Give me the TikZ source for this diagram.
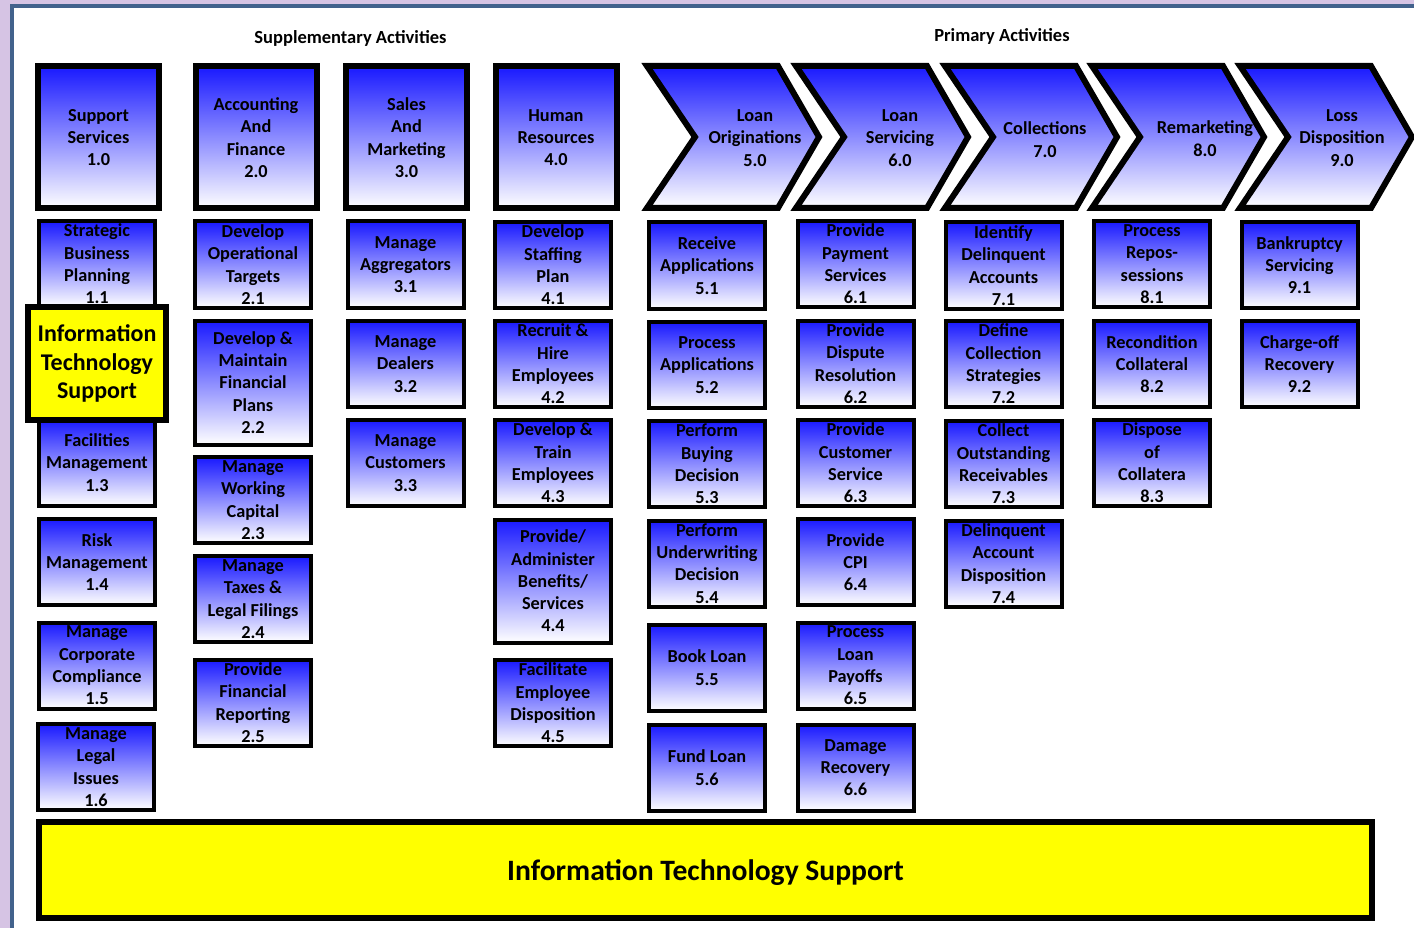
\documentclass[tikz,border=0pt]{standalone}
\usepackage{fontspec}
\setmainfont{Carlito}
\definecolor{boxblue}{RGB}{25,25,255}
\definecolor{ityellow}{RGB}{255,255,0}
\definecolor{pagepurple}{RGB}{214,196,228}
\definecolor{pageline}{RGB}{66,98,140}
\tikzset{%
    hdr/.style={rectangle, draw, line width=6pt, top color=boxblue, middle color=boxblue!38!white, bottom color=white, minimum width=121pt, minimum height=142pt, inner sep=0pt, align=center, font=\fontsize{18.3}{22.3}\selectfont\bfseries},
    sub/.style={rectangle, draw, line width=4pt, top color=boxblue, middle color=boxblue!38!white, bottom color=white, minimum width=116pt, minimum height=86pt, inner sep=0pt, align=center, font=\fontsize{18.3}{22.3}\selectfont\bfseries},
    tall/.style={sub, minimum height=124pt},
    chv/.style={draw, line width=6pt, line join=miter, top color=boxblue, middle color=boxblue!38!white, bottom color=white},
    chvt/.style={inner sep=0pt, align=center, font=\fontsize{18.3}{22.3}\selectfont\bfseries},
    itb/.style={rectangle, draw, line width=6pt, fill=ityellow, inner sep=0pt, align=center},
    ttl/.style={inner sep=0pt, font=\fontsize{18.5}{22}\selectfont\bfseries},
}
\begin{document}
\begin{tikzpicture}[x=1pt, y=-1pt]
    % page frame
    \fill[pagepurple] (0,0) rectangle (1414,928);
    \fill[pageline] (10,4) rectangle (1414,928);
    \fill[white] (14,8) rectangle (1414,928);
    \useasboundingbox (0,0) rectangle (1414,928);
    \node[ttl] (supp) at (350.5,38) {Supplementary Activities};
    \node[ttl] (prim) at (1002,36) {Primary Activities};
    % supplementary headers
    \node[hdr] (h1) at (98.5,137.5) {Support\\Services\\1.0};
    \node[hdr] (h2) at (256,137.5) {Accounting\\And\\Finance\\2.0};
    \node[hdr] (h3) at (406.5,137.5) {Sales\\And\\Marketing\\3.0};
    \node[hdr] (h4) at (556,137.5) {Human\\Resources\\4.0};
    % primary chevrons
    \draw[chv] (647,66)--(778,66)--(819,137)--(778,208)--(647,208)--(695,137)--cycle;
    \draw[chv] (796,66)--(927,66)--(968,137)--(927,208)--(796,208)--(844,137)--cycle;
    \draw[chv] (945,66)--(1076,66)--(1117,137)--(1076,208)--(945,208)--(993,137)--cycle;
    \draw[chv] (1092,66)--(1223,66)--(1264,137)--(1223,208)--(1092,208)--(1140,137)--cycle;
    \draw[chv] (1240,66)--(1371,66)--(1412,137)--(1371,208)--(1240,208)--(1288,137)--cycle;
    \node[chvt] (c5) at (755,138) {Loan\\Originations\\5.0};
    \node[chvt] (c6) at (900,138) {Loan\\Servicing\\6.0};
    \node[chvt] (c7) at (1045,139.5) {Collections\\7.0};
    \node[chvt] (c8) at (1205,138.5) {Remarketing\\8.0};
    \node[chvt] (c9) at (1342,138) {Loss\\Disposition\\9.0};
    % column 1
    \node[sub] (s11) at (97,264) {Strategic\\Business\\Planning\\1.1};
    \node[sub] (s13) at (97,462.5) {Facilities\\Management\\1.3};
    \node[sub] (s14) at (97,562) {Risk\\Management\\1.4};
    \node[sub] (s15) at (97,665.5) {Manage\\Corporate\\Compliance\\1.5};
    \node[sub] (s16) at (96,767) {Manage\\Legal\\Issues\\1.6};
    \node[itb, minimum width=138pt, minimum height=113pt, font=\fontsize{24}{28.7}\selectfont\bfseries] (it) at (97,363.5) {Information\\Technology\\Support};
    % column 2
    \node[sub] (s21) at (253,264.5) {Develop\\Operational\\Targets\\2.1};
    \node[tall] (s22) at (253,382.5) {Develop \&\\Maintain\\Financial\\Plans\\2.2};
    \node[sub] (s23) at (253,500) {Manage\\Working\\Capital\\2.3};
    \node[sub] (s24) at (253,599) {Manage\\Taxes \&\\Legal Filings\\2.4};
    \node[sub] (s25) at (253,702.5) {Provide\\Financial\\Reporting\\2.5};
    % column 3
    \node[sub] (s31) at (405.5,264.5) {Manage\\Aggregators\\3.1};
    \node[sub] (s32) at (405.5,364) {Manage\\Dealers\\3.2};
    \node[sub] (s33) at (405.5,463) {Manage\\Customers\\3.3};
    % column 4
    \node[sub] (s41) at (553,265) {Develop\\Staffing\\Plan\\4.1};
    \node[sub] (s42) at (553,364) {Recruit \&\\Hire\\Employees\\4.2};
    \node[sub] (s43) at (553,463) {Develop \&\\Train\\Employees\\4.3};
    \node[tall, minimum height=123pt] (s44) at (553,581) {Provide/\\Administer\\Benefits/\\Services\\4.4};
    \node[sub] (s45) at (553,703) {Facilitate\\Employee\\Disposition\\4.5};
    % column 5
    \node[sub] (s51) at (707,265.5) {Receive\\Applications\\5.1};
    \node[sub] (s52) at (707,365) {Process\\Applications\\5.2};
    \node[sub] (s53) at (707,464) {Perform\\Buying\\Decision\\5.3};
    \node[sub] (s54) at (707,563.5) {Perform\\Underwriting\\Decision\\5.4};
    \node[sub] (s55) at (707,667.5) {Book Loan\\5.5};
    \node[sub] (s56) at (707,767.5) {Fund Loan\\5.6};
    % column 6
    \node[sub] (s61) at (855.5,264) {Provide\\Payment\\Services\\6.1};
    \node[sub] (s62) at (855.5,363.5) {Provide\\Dispute\\Resolution\\6.2};
    \node[sub] (s63) at (855.5,463) {Provide\\Customer\\Service\\6.3};
    \node[sub] (s64) at (855.5,562) {Provide\\CPI\\6.4};
    \node[sub] (s65) at (855.5,665.5) {Process\\Loan\\Payoffs\\6.5};
    \node[sub] (s66) at (855.5,767.5) {Damage\\Recovery\\6.6};
    % column 7
    \node[sub] (s71) at (1003.5,265.5) {Identify\\Delinquent\\Accounts\\7.1};
    \node[sub] (s72) at (1003.5,364) {Define\\Collection\\Strategies\\7.2};
    \node[sub] (s73) at (1003.5,464) {Collect\\Outstanding\\Receivables\\7.3};
    \node[sub] (s74) at (1003.5,563.5) {Delinquent\\Account\\Disposition\\7.4};
    % column 8
    \node[sub] (s81) at (1152,264) {Process\\Repos-\\sessions\\8.1};
    \node[sub] (s82) at (1152,364) {Recondition\\Collateral\\8.2};
    \node[sub] (s83) at (1152,463) {Dispose\\of\\Collatera\\8.3};
    % column 9
    \node[sub] (s91) at (1299.5,265) {Bankruptcy\\Servicing\\9.1};
    \node[sub] (s92) at (1299.5,364) {Charge-off\\Recovery\\9.2};
    % bottom bar
    \node[itb, minimum width=1333pt, minimum height=96pt, text depth=0pt, font=\fontsize{29.6}{35}\selectfont\bfseries] (itbar) at (705.5,870) {Information Technology Support};
\end{tikzpicture}
\end{document}
